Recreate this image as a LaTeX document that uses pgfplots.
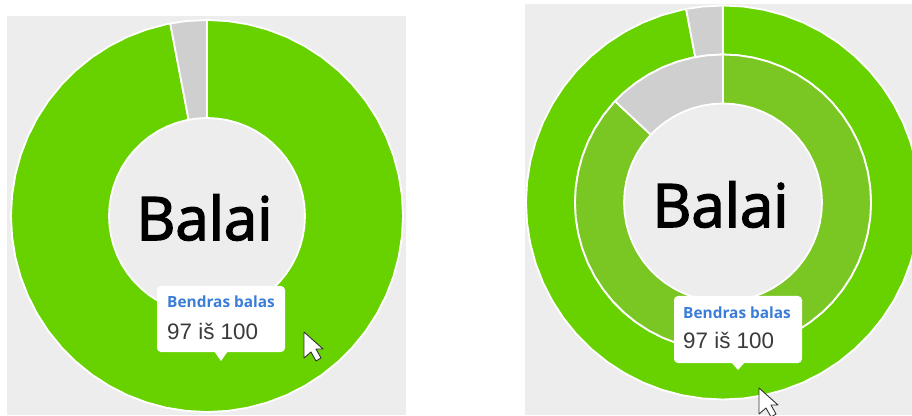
\documentclass[border=0pt]{standalone}
\usepackage{fontspec}
\usepackage{pgfplots}
\pgfplotsset{compat=1.18}
\setmainfont{Open Sans}
\newfontfamily\balaifont[FakeBold=2.5]{Open Sans}
\newfontfamily\bodyfont{Liberation Sans}
\definecolor{bgc}{HTML}{EDEDED}
\definecolor{greenA}{HTML}{68D200}
\definecolor{greenB}{HTML}{7AC724}
\definecolor{greyc}{HTML}{CFCFCF}
\definecolor{bluec}{HTML}{3A7DD8}
\definecolor{txtc}{HTML}{3A3A3A}
\pgfplotsset{donut/.style={
  anchor=south west, x=1pt, y=1pt, scale only axis,
  ticks=none, axis line style={draw=none},
  axis background/.style={fill=bgc}},
  seg/.style={data cs=polar, draw=white, line width=1.8pt, line join=round, mark=none, forget plot}}
\begin{document}
\begin{tikzpicture}
\path[use as bounding box] (0,0) rectangle (912pt,415pt);
% left donut: 97 of 100
\begin{axis}[donut, at={(7pt,0pt)}, xmin=-200, xmax=199, ymin=-199, ymax=200]
\addplot[seg, fill=greenA] coordinates {
(90,196)(84,196)(78,196)(72,196)(66,196)(60,196)(54,196)(48,196)(42,196)(36,196)(30,196)(24,196)(18,196)(12,196)(6,196)(0,196)(-6,196)(-12,196)(-18,196)(-24,196)(-30,196)(-36,196)(-42,196)(-48,196)(-54,196)(-60,196)(-66,196)(-72,196)(-78,196)(-84,196)(-90,196)(-96,196)(-102,196)(-108,196)(-114,196)(-120,196)(-126,196)(-132,196)(-138,196)(-144,196)(-150,196)(-156,196)(-162,196)(-168,196)(-174,196)(-180,196)(-186,196)(-192,196)(-198,196)(-204,196)(-210,196)(-216,196)(-222,196)(-228,196)(-234,196)(-240,196)(-246,196)(-252,196)(-258,196)(-259.2,196)
(-259.2,98)(-258,98)(-252,98)(-246,98)(-240,98)(-234,98)(-228,98)(-222,98)(-216,98)(-210,98)(-204,98)(-198,98)(-192,98)(-186,98)(-180,98)(-174,98)(-168,98)(-162,98)(-156,98)(-150,98)(-144,98)(-138,98)(-132,98)(-126,98)(-120,98)(-114,98)(-108,98)(-102,98)(-96,98)(-90,98)(-84,98)(-78,98)(-72,98)(-66,98)(-60,98)(-54,98)(-48,98)(-42,98)(-36,98)(-30,98)(-24,98)(-18,98)(-12,98)(-6,98)(0,98)(6,98)(12,98)(18,98)(24,98)(30,98)(36,98)(42,98)(48,98)(54,98)(60,98)(66,98)(72,98)(78,98)(84,98)(90,98)
} -- cycle;
\addplot[seg, fill=greyc] coordinates {
(100.8,196)(96,196)(90,196)(90,98)(96,98)(100.8,98)
} -- cycle;
\end{axis}
% right donut: outer 97 of 100, inner 87 of 100
\begin{axis}[donut, at={(525pt,0pt)}, xmin=-198, xmax=189, ymin=-212.5, ymax=198.5]
\addplot[seg, fill=greenA] coordinates {
(90,197)(84,197)(78,197)(72,197)(66,197)(60,197)(54,197)(48,197)(42,197)(36,197)(30,197)(24,197)(18,197)(12,197)(6,197)(0,197)(-6,197)(-12,197)(-18,197)(-24,197)(-30,197)(-36,197)(-42,197)(-48,197)(-54,197)(-60,197)(-66,197)(-72,197)(-78,197)(-84,197)(-90,197)(-96,197)(-102,197)(-108,197)(-114,197)(-120,197)(-126,197)(-132,197)(-138,197)(-144,197)(-150,197)(-156,197)(-162,197)(-168,197)(-174,197)(-180,197)(-186,197)(-192,197)(-198,197)(-204,197)(-210,197)(-216,197)(-222,197)(-228,197)(-234,197)(-240,197)(-246,197)(-252,197)(-258,197)(-259.2,197)
(-259.2,148)(-258,148)(-252,148)(-246,148)(-240,148)(-234,148)(-228,148)(-222,148)(-216,148)(-210,148)(-204,148)(-198,148)(-192,148)(-186,148)(-180,148)(-174,148)(-168,148)(-162,148)(-156,148)(-150,148)(-144,148)(-138,148)(-132,148)(-126,148)(-120,148)(-114,148)(-108,148)(-102,148)(-96,148)(-90,148)(-84,148)(-78,148)(-72,148)(-66,148)(-60,148)(-54,148)(-48,148)(-42,148)(-36,148)(-30,148)(-24,148)(-18,148)(-12,148)(-6,148)(0,148)(6,148)(12,148)(18,148)(24,148)(30,148)(36,148)(42,148)(48,148)(54,148)(60,148)(66,148)(72,148)(78,148)(84,148)(90,148)
} -- cycle;
\addplot[seg, fill=greyc] coordinates {
(100.8,197)(96,197)(90,197)(90,148)(96,148)(100.8,148)
} -- cycle;
\addplot[seg, fill=greenB] coordinates {
(90,148)(84,148)(78,148)(72,148)(66,148)(60,148)(54,148)(48,148)(42,148)(36,148)(30,148)(24,148)(18,148)(12,148)(6,148)(0,148)(-6,148)(-12,148)(-18,148)(-24,148)(-30,148)(-36,148)(-42,148)(-48,148)(-54,148)(-60,148)(-66,148)(-72,148)(-78,148)(-84,148)(-90,148)(-96,148)(-102,148)(-108,148)(-114,148)(-120,148)(-126,148)(-132,148)(-138,148)(-144,148)(-150,148)(-156,148)(-162,148)(-168,148)(-174,148)(-180,148)(-186,148)(-192,148)(-198,148)(-204,148)(-210,148)(-216,148)(-222,148)(-223.2,148)
(-223.2,99)(-222,99)(-216,99)(-210,99)(-204,99)(-198,99)(-192,99)(-186,99)(-180,99)(-174,99)(-168,99)(-162,99)(-156,99)(-150,99)(-144,99)(-138,99)(-132,99)(-126,99)(-120,99)(-114,99)(-108,99)(-102,99)(-96,99)(-90,99)(-84,99)(-78,99)(-72,99)(-66,99)(-60,99)(-54,99)(-48,99)(-42,99)(-36,99)(-30,99)(-24,99)(-18,99)(-12,99)(-6,99)(0,99)(6,99)(12,99)(18,99)(24,99)(30,99)(36,99)(42,99)(48,99)(54,99)(60,99)(66,99)(72,99)(78,99)(84,99)(90,99)
} -- cycle;
\addplot[seg, fill=greyc] coordinates {
(136.8,148)(132,148)(126,148)(120,148)(114,148)(108,148)(102,148)(96,148)(90,148)(90,99)(96,99)(102,99)(108,99)(114,99)(120,99)(126,99)(132,99)(136.8,99)
} -- cycle;
\end{axis}
% annotations, in reference pixels
\begin{scope}[x=1pt,y=-1pt,yshift=415pt]
\node[anchor=base,inner sep=0pt,text=black] at (204.5,240) {\balaifont\fontsize{60}{60}\selectfont Balai};
\node[anchor=base,inner sep=0pt,text=black] at (720.5,227) {\balaifont\fontsize{60}{60}\selectfont Balai};
% tooltips
\fill[white,rounded corners=4pt] (157,286) rectangle (285,352);
\fill[white] (214,351) -- (221,361) -- (228,351) -- cycle;
\node[anchor=base west,inner sep=0pt,text=bluec] at (167,308) {\fontsize{15.4}{17}\selectfont\bfseries Bendras balas};
\node[anchor=base west,inner sep=0pt,text=txtc] at (167,339) {\bodyfont\fontsize{22.4}{24}\selectfont 97 iš 100};
\fill[white,rounded corners=4pt] (674,296) rectangle (802,363);
\fill[white] (731,362) -- (738,370) -- (745,362) -- cycle;
\node[anchor=base west,inner sep=0pt,text=bluec] at (683,318) {\fontsize{15.4}{17}\selectfont\bfseries Bendras balas};
\node[anchor=base west,inner sep=0pt,text=txtc] at (683,348) {\bodyfont\fontsize{22.4}{24}\selectfont 97 iš 100};
% cursors
\filldraw[fill=white,draw=black!80,line width=0.9pt,line join=round] (304,332) -- (304,358) -- (311,352) -- (316,361) -- (321,358) -- (316,349) -- (323,349) -- cycle;
\filldraw[fill=white,draw=black!80,line width=0.9pt,line join=round] (759,388) -- (759,414) -- (766,408) -- (771,417) -- (776,414) -- (771,405) -- (778,405) -- cycle;
\end{scope}
\end{tikzpicture}
\end{document}
